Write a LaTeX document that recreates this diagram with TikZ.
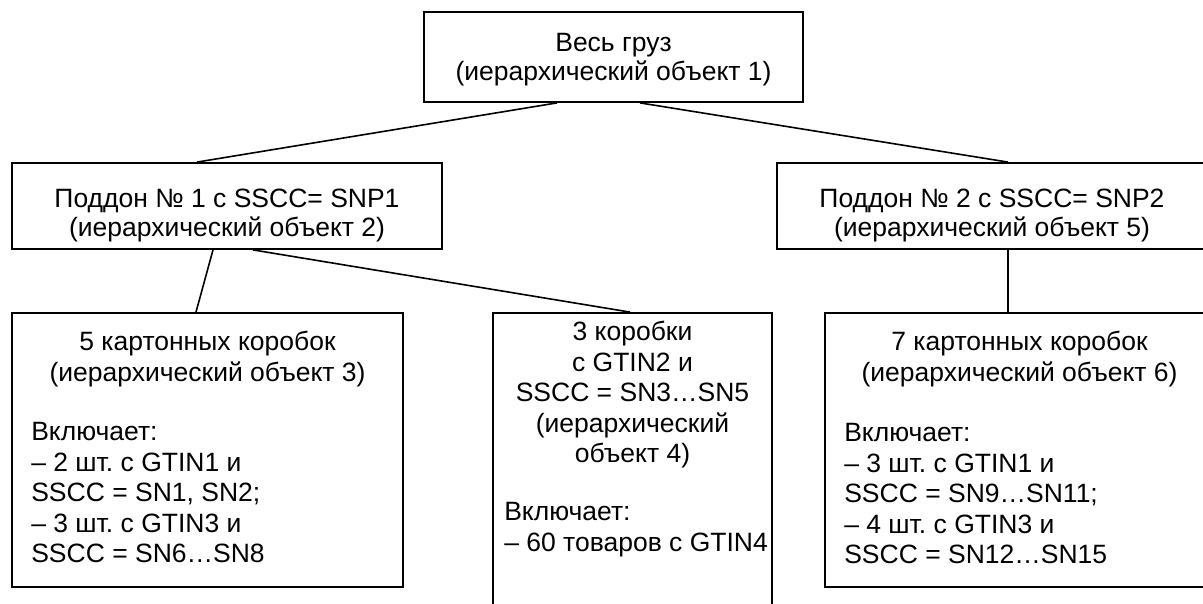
\documentclass[tikz,border=0pt]{standalone}
\usepackage{fontspec}
\setmainfont{Liberation Sans}
\usetikzlibrary{positioning}
\frenchspacing

\begin{document}
\begin{tikzpicture}[
    x=1pt, y=-1pt,
    box/.style={rectangle, draw, line width=1.8pt, inner sep=0pt},
    title/.style={inner sep=0pt, align=center, font=\fontsize{26.5}{28.5}\selectfont},
    head/.style={inner sep=0pt, align=center, font=\fontsize{26.5}{30.5}\selectfont},
    list/.style={inner sep=0pt, align=left, font=\fontsize{26.5}{30.5}\selectfont},
    link/.style={line width=1.6pt}
]
    \useasboundingbox (0,0) rectangle (1203,604);
    \clip (0,0) rectangle (1203,604);

    % Whole cargo
    \node[box, minimum width=379pt, minimum height=90pt] (cargo) at (613.5,57) {};
    \node[title, below=22pt of cargo.north] (cargohead) {Весь груз\\(иерархический объект 1)};

    % Pallets
    \node[box, minimum width=430pt, minimum height=86pt] (pal1) at (227,206) {};
    \node[box, minimum width=462pt, minimum height=86pt] (pal2) at (1008,206) {};
    \node[title, below=27pt of pal1.north] (pal1head) {Поддон № 1 с SSCC= SNP1\\(иерархический объект 2)};
    \node[title, below=27pt of pal2.north, xshift=-16pt] (pal2head) {Поддон № 2 с SSCC= SNP2\\(иерархический объект 5)};

    % Boxes
    \node[box, minimum width=391pt, minimum height=274pt] (box3) at (207.5,450) {};
    \node[box, minimum width=279pt, minimum height=330pt] (box4) at (632.5,478) {};
    \node[box, minimum width=389pt, minimum height=274pt] (box6) at (1019.5,450) {};

    % Box texts
    \node[head, below=19pt of box3.north] (box3head) {5 картонных коробок\\(иерархический объект 3)};
    \node[list, anchor=north west] (box3list) at ([xshift=20pt, yshift=-110pt]box3.north west) {Включает:\\– 2 шт. с GTIN1 и\\SSCC = SN1, SN2;\\– 3 шт. с GTIN3 и\\SSCC = SN6…SN8};

    \node[head, below=9pt of box4.north] (box4head) {3 коробки\\с GTIN2 и\\SSCC = SN3…SN5\\(иерархический\\объект 4)};
    \node[list, anchor=north west] (box4list) at ([xshift=12pt, yshift=-190pt]box4.north west) {Включает:\\– 60 товаров с GTIN4};

    \node[head, below=19pt of box6.north] (box6head) {7 картонных коробок\\(иерархический объект 6)};
    \node[list, anchor=north west] (box6list) at ([xshift=20pt, yshift=-111pt]box6.north west) {Включает:\\– 3 шт. с GTIN1 и\\SSCC = SN9…SN11;\\– 4 шт. с GTIN3 и\\SSCC = SN12…SN15};

    % Lines
    \draw[link] ([xshift=-56.5pt]cargo.south) -- ([xshift=-30pt]pal1.north);
    \draw[link] ([xshift=26.5pt]cargo.south) -- (pal2.north);
    \draw[link] ([xshift=-14pt]pal1.south) -- ([xshift=-11.5pt]box3.north);
    \draw[link] ([xshift=26pt]pal1.south) -- ([xshift=-2.5pt]box4.north);
    \draw[link] (pal2.south) -- (pal2.south |- box6.north);
\end{tikzpicture}
\end{document}
